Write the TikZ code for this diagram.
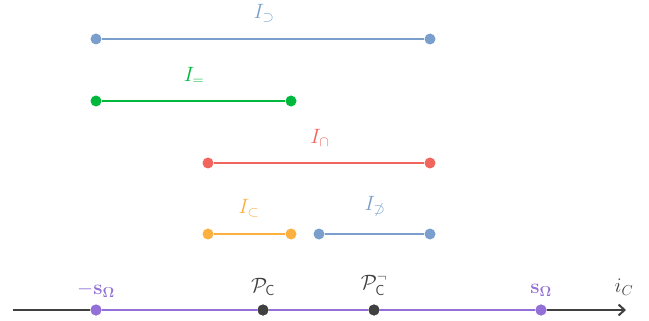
\documentclass[tikz,border=0pt]{standalone}
\usepackage{amsmath,amssymb}
\usetikzlibrary{arrows.meta}
\definecolor{cblue}{HTML}{7A9FCD}
\definecolor{cgreen}{HTML}{00B83C}
\definecolor{cred}{HTML}{F2655D}
\definecolor{corange}{HTML}{FBB040}
\definecolor{cpurple}{HTML}{9370D8}
\definecolor{cdark}{HTML}{404040}
\begin{document}
\begin{tikzpicture}[x=1pt,y=-1pt,
  seg/.style={line width=2.6pt},
  dot/.style={circle,inner sep=0pt,minimum size=11pt,fill=#1},
  lab/.style={text=#1,font=\fontsize{21}{24}\selectfont,inner sep=0pt}]
\useasboundingbox (0,0) rectangle (649,321);
% row 1
\node[dot=cblue] (a1) at (96,39) {};
\node[dot=cblue] (a2) at (430,39) {};
\draw[seg,cblue] (a1) -- (a2);
\node[lab=cblue] (la) at (264,13) {$I_{\supset}$};
% row 2
\node[dot=cgreen] (b1) at (96,101) {};
\node[dot=cgreen] (b2) at (291,101) {};
\draw[seg,cgreen] (b1) -- (b2);
\node[lab=cgreen] (lb) at (194,76) {$I_{=}$};
% row 3
\node[dot=cred] (c1) at (208,163) {};
\node[dot=cred] (c2) at (430,163) {};
\draw[seg,cred] (c1) -- (c2);
\node[lab=cred] (lc) at (320,138) {$I_{\cap}$};
% row 4
\node[dot=corange] (d1) at (208,234) {};
\node[dot=corange] (d2) at (291,234) {};
\draw[seg,corange] (d1) -- (d2);
\node[lab=corange] (ld) at (249,208) {$I_{\subset}$};
\node[dot=cblue] (e1) at (319,234) {};
\node[dot=cblue] (e2) at (430,234) {};
\draw[seg,cblue] (e1) -- (e2);
\node[lab=cblue] (le) at (375,206) {$I_{\not\supset}$};
% axis
\coordinate (ax0) at (13,310);
\coordinate (ax1) at (626,310);
\node[dot=cpurple] (p1) at (96,310) {};
\node[dot=cdark] (p2) at (263,310) {};
\node[dot=cdark] (p3) at (374,310) {};
\node[dot=cpurple] (p4) at (541,310) {};
\draw[seg,cdark] (ax0) -- (p1);
\draw[seg,cdark,-{Straight Barb[length=6pt,width=11pt,line width=2pt]}] (p4) -- (ax1);
\draw[seg,cpurple] (p1) -- (p2) -- (p3) -- (p4);
\node[dot=cpurple] at (p1) {};
\node[dot=cdark] at (p2) {};
\node[dot=cdark] at (p3) {};
\node[dot=cpurple] at (p4) {};
\node[lab=cpurple] (l1) at (96,290) {$-\mathbf{s}_{\mathbf{\Omega}}$};
\node[lab=cdark] (l2) at (263,287) {$\mathcal{P}_{\mathsf{C}}$};
\node[lab=cdark] (l3) at (374,285) {$\mathcal{P}_{\mathsf{C}}^{\neg}$};
\node[lab=cpurple] (l4) at (541,290) {$\mathbf{s}_{\mathbf{\Omega}}$};
\node[lab=cdark] (l5) at (624,287) {$i_C$};
\end{tikzpicture}
\end{document}
